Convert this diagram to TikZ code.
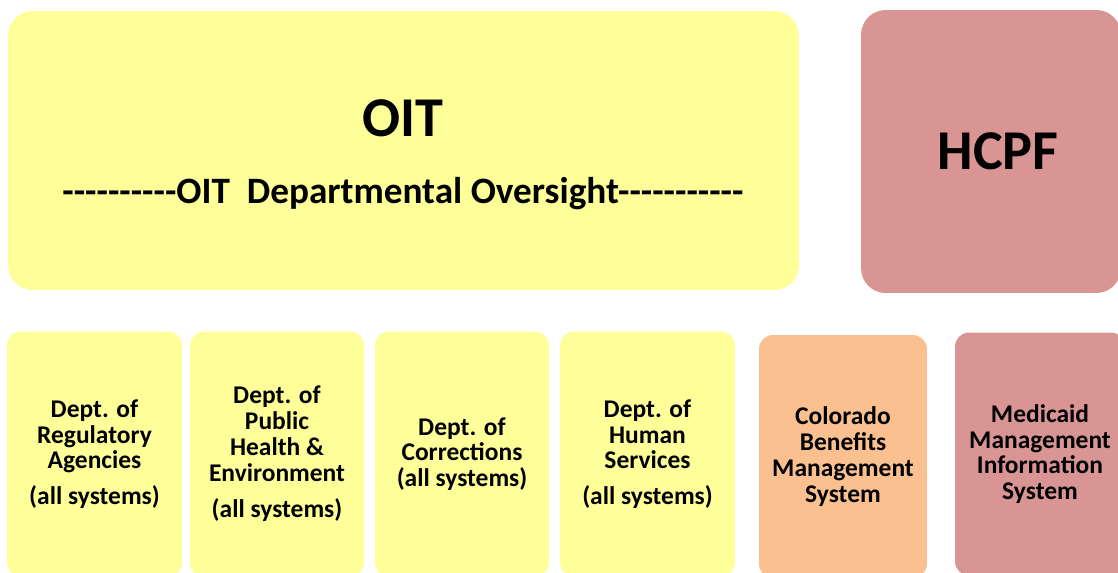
\documentclass[tikz,border=0pt]{standalone}
\usepackage{fontspec}
\setmainfont{Carlito}
\usetikzlibrary{positioning}
\definecolor{oit yellow}{RGB}{255,255,153}
\definecolor{hcpf rose}{RGB}{217,149,148}
\definecolor{cbms orange}{RGB}{250,192,144}
\tikzset{
    box/.style={rectangle,inner sep=0pt,outer sep=0pt,align=center,rounded corners=#1},
    box/.default=8pt,
    big box/.style={box=14pt,font=\bfseries\fontsize{32}{36}\selectfont},
    agency box/.style={box,fill=oit yellow,minimum height=4.9cm,font=\bfseries\fontsize{14.5}{14.7}\selectfont},
    system box/.style={box,minimum height=4.86cm,font=\bfseries\fontsize{14.5}{14.7}\selectfont},
    title text/.style={font=\bfseries\fontsize{32}{36}\selectfont},
    oversight text/.style={font=\bfseries\fontsize{21.2}{24}\selectfont},
}
\newcommand{\dashrun}[1]{\foreach \d in {1,...,#1}{-}}

\begin{document}
\begin{tikzpicture}[x=0.02cm,y=-0.02cm]
    \useasboundingbox (0,0) rectangle (1118,572);
    \clip (0,0) rectangle (1118,572);

    % top row
    \node[big box,fill=oit yellow,minimum width=15.82cm,minimum height=5.58cm] (oit) at (403.5,150.5) {};
    \node[title text] (oittitle) at (403,118) {OIT};
    \node[oversight text] (oversight) at (403,193.5) {\dashrun{10}OIT\ \ Departmental Oversight\dashrun{11}};
    \node[big box,fill=hcpf rose,minimum width=5.2cm,minimum height=5.66cm,text depth=0pt] (hcpf) at (991,151.5) {\hspace*{8pt}HCPF};

    % departments
    \node[agency box,minimum width=3.5cm] (regagencies) at (94.5,454)
    {Dept. of\\Regulatory\\Agencies\\[5.5pt](all systems)};
    \node[agency box,minimum width=3.48cm] (pubhealth) at (277,454)
    {Dept. of\\Public\\Health \&\\Environment\\[6pt](all systems)};
    \node[agency box,minimum width=3.48cm] (corrections) at (462,454)
    {Dept. of\\Corrections\\(all systems)};
    \node[agency box,minimum width=3.5cm] (humanserv) at (647.5,454)
    {Dept. of\\Human\\Services\\[5.5pt](all systems)};

    % systems
    \node[system box,fill=cbms orange,minimum width=3.36cm] (cbms) at (843,456.5)
    {Colorado\\Benefits\\Management\\System};
    \node[system box,fill=hcpf rose,minimum width=3.4cm] (mmis) at (1040,454)
    {Medicaid\\Management\\Information\\System};
\end{tikzpicture}
\end{document}
